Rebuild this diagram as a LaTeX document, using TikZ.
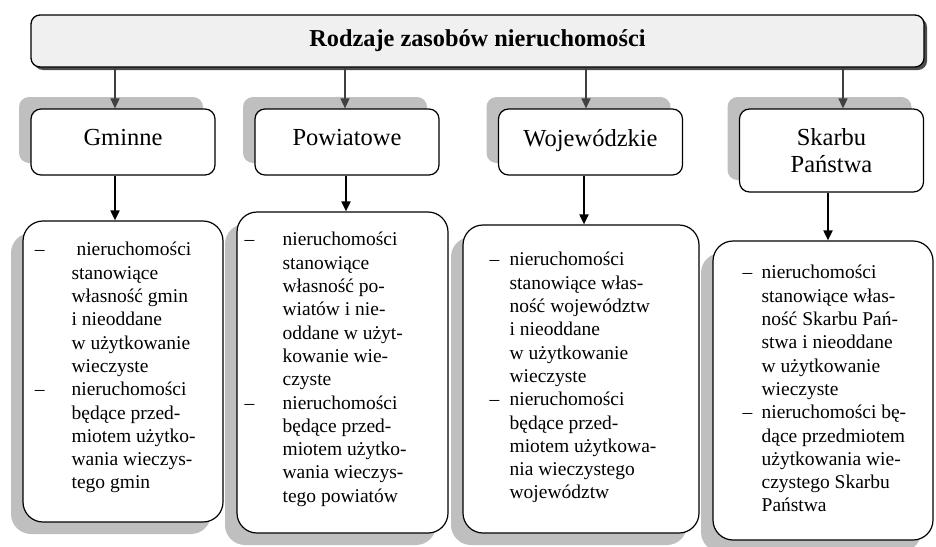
\documentclass[tikz,border=0pt]{standalone}
\usepackage{fontspec}
\setmainfont{Liberation Serif}
\usetikzlibrary{shadows,arrows.meta}
\newcommand{\lista}[2]{\begin{tabular}[t]{@{}l@{\hspace{#1}}l@{}}#2\end{tabular}}

\begin{document}
\begin{tikzpicture}[x=1pt,y=1pt]
		\tikzstyle{every node}+=[inner sep=0pt]
		\tikzstyle{titlebox}=[draw=black, line width=1.3pt, fill=black!6, rounded corners=9pt, minimum width=893pt, minimum height=52pt, font=\fontsize{24.3}{28}\selectfont\bfseries, drop shadow={shadow xshift=3pt, shadow yshift=-3pt, fill=black!70, opacity=1}]
		\tikzstyle{kind}=[draw=black, line width=1.2pt, fill=white, rounded corners=10pt, minimum width=184pt, minimum height=66pt, align=center, font=\fontsize{24.5}{27}\selectfont, drop shadow={shadow xshift=-12pt, shadow yshift=12pt, fill=gray!50, opacity=1}]
		\tikzstyle{listbox}=[draw=black, line width=1.2pt, fill=white, rounded corners=20pt, drop shadow={shadow xshift=-12pt, shadow yshift=-12pt, fill=gray!50, opacity=1}]
		\tikzstyle{listtext}=[anchor=base west, font=\fontsize{19.5}{23.3}\selectfont]
		\tikzstyle{thinarr}=[draw=black!75, line width=1.4pt, -{Triangle[length=10pt,width=9pt]}]
		\tikzstyle{thickarr}=[draw=black, line width=1.9pt, -{Triangle[length=10pt,width=9pt]}]
		\useasboundingbox (0,0) rectangle (936,-546);
		\node[titlebox] (title) at (477.5,-41) {Rodzaje zasobów nieruchomości};
		\node[kind, text depth=9pt] (gm) at (123,-142) {Gminne};
		\node[kind, text depth=9pt] (pw) at (347,-142) {Powiatowe};
		\node[kind, text depth=9pt] (wj) at (590.5,-142) {Wojewódzkie};
		\node[kind, minimum height=83pt] (sp) at (831.5,-150.5) {Skarbu\\Państwa};
		\node[listbox, minimum width=200pt, minimum height=301pt] (gm-box) at (123,-371.5) {};
		\node[listbox, minimum width=211pt, minimum height=321pt] (pw-box) at (342.5,-372.5) {};
		\node[listbox, minimum width=236pt, minimum height=308pt] (wj-box) at (581,-379) {};
		\node[listbox, minimum width=220pt, minimum height=299pt] (sp-box) at (823,-390.5) {};
		\node[listtext] (gm-txt) at ([shift={(12.3,-35.5)}]gm-box.north west) {\lista{27pt}{%
			–&\ nieruchomości\\ &stanowiące\\ &własność gmin\\ &i nieoddane\\ &w użytkowanie\\ &wieczyste\\
			–&nieruchomości\\ &będące przed-\\ &miotem użytko-\\ &wania wieczys-\\ &tego gmin}};
		\node[listtext] (pw-txt) at ([shift={(8,-34.5)}]pw-box.north west) {\lista{28.3pt}{%
			–&nieruchomości\\ &stanowiące\\ &własność po-\\ &wiatów i nie-\\ &oddane w użyt-\\ &kowanie wie-\\ &czyste\\
			–&nieruchomości\\ &będące przed-\\ &miotem użytko-\\ &wania wieczys-\\ &tego powiatów}};
		\node[listtext] (wj-txt) at ([shift={(27,-41.5)}]wj-box.north west) {\lista{10.3pt}{%
			–&nieruchomości\\ &stanowiące włas-\\ &ność województw\\ &i nieoddane\\ &w użytkowanie\\ &wieczyste\\
			–&nieruchomości\\ &będące przed-\\ &miotem użytkowa-\\ &nia wieczystego\\ &województw}};
		\node[listtext] (sp-txt) at ([shift={(30,-38.5)}]sp-box.north west) {\lista{9.3pt}{%
			–&nieruchomości\\ &stanowiące włas-\\ &ność Skarbu Pań-\\ &stwa i nieoddane\\ &w użytkowanie\\ &wieczyste\\
			–&nieruchomości bę-\\ &dące przedmiotem\\ &użytkowania wie-\\ &czystego Skarbu\\ &Państwa}};
		\draw[thinarr] ([xshift=-8]gm.north |- title.south) -- ([xshift=-8]gm.north);
		\draw[thinarr] ([xshift=-2]pw.north |- title.south) -- ([xshift=-2]pw.north);
		\draw[thinarr] ([xshift=-4.5]wj.north |- title.south) -- ([xshift=-4.5]wj.north);
		\draw[thinarr] ([xshift=11.5]sp.north |- title.south) -- ([xshift=11.5]sp.north);
		\draw[thickarr] ([xshift=-8]gm.south) -- ([xshift=-8]gm.south |- gm-box.north);
		\draw[thickarr] ([xshift=-1]pw.south) -- ([xshift=-1]pw.south |- pw-box.north);
		\draw[thickarr] ([xshift=-6.5]wj.south) -- ([xshift=-6.5]wj.south |- wj-box.north);
		\draw[thickarr] ([xshift=-3.5]sp.south) -- ([xshift=-3.5]sp.south |- sp-box.north);
	\end{tikzpicture}
\end{document}
